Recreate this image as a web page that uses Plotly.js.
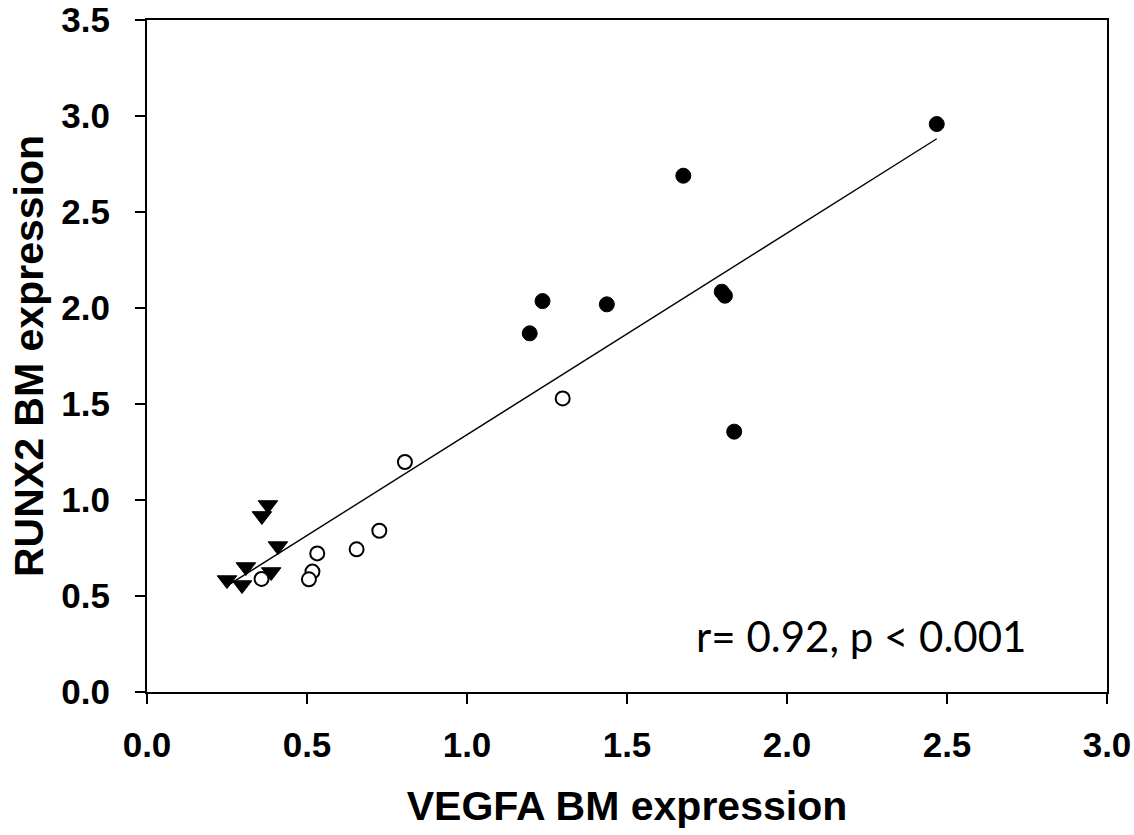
<!DOCTYPE html>
<html>
<head>
<meta charset="utf-8">
<script src="https://cdn.plot.ly/plotly-3.0.1.min.js"></script>
<style>html,body{margin:0;padding:0;background:#fff;}#chart{width:1134px;height:835px;}</style>
</head>
<body>
<div id="chart"></div>
<script>
// Group 1: filled down-triangles
const triX = [0.378, 0.359, 0.409, 0.309, 0.388, 0.250, 0.297];
const triY = [0.974, 0.917, 0.760, 0.651, 0.625, 0.583, 0.557];
// Group 2: open circles
const openX = [0.358, 0.532, 0.517, 0.506, 0.655, 0.726, 0.806, 1.299];
const openY = [0.589, 0.722, 0.627, 0.587, 0.743, 0.840, 1.198, 1.529];
// Group 3: filled circles
const fillX = [1.676, 1.236, 1.196, 1.437, 1.796, 1.806, 1.835, 2.468];
const fillY = [2.689, 2.036, 1.868, 2.019, 2.085, 2.064, 1.356, 2.958];

const xTicks = [0, 0.5, 1.0, 1.5, 2.0, 2.5, 3.0];
const yTicks = [0, 0.5, 1.0, 1.5, 2.0, 2.5, 3.0, 3.5];
const statText = 'r= 0.92, p < 0.001';

// Linear regression over all points
const allX = triX.concat(openX, fillX);
const allY = triY.concat(openY, fillY);
const n = allX.length;
const mx = allX.reduce((a, b) => a + b, 0) / n;
const my = allY.reduce((a, b) => a + b, 0) / n;
let sxy = 0, sxx = 0;
for (let i = 0; i < n; i++) { sxy += (allX[i] - mx) * (allY[i] - my); sxx += (allX[i] - mx) ** 2; }
const slope = sxy / sxx;
const intercept = my - slope * mx;
const xMin = Math.min(...allX), xMax = Math.max(...allX);
const fitX = [xMin, xMax];
const fitY = fitX.map(v => intercept + slope * v);

const traces = [
  { x: fitX, y: fitY, mode: 'lines', line: { color: '#000', width: 1.4 }, hoverinfo: 'skip', showlegend: false },
  { x: triX, y: triY, mode: 'markers', marker: { symbol: 'triangle-down', size: 17, color: '#000', line: { color: '#000', width: 1 } }, showlegend: false },
  { x: openX, y: openY, mode: 'markers', marker: { symbol: 'circle', size: 14, color: '#fff', line: { color: '#000', width: 2 } }, showlegend: false },
  { x: fillX, y: fillY, mode: 'markers', marker: { symbol: 'circle', size: 15, color: '#000', line: { color: '#000', width: 1 } }, showlegend: false }
];

const tickFont = { family: 'Liberation Sans, Arial, sans-serif', size: 35, color: '#000', weight: 'bold' };
const titleFont = { family: 'Liberation Sans, Arial, sans-serif', size: 41, color: '#000', weight: 'bold' };

const layout = {
  width: 1134, height: 835,
  margin: { l: 147, r: 27, t: 20, b: 143 },
  paper_bgcolor: '#fff', plot_bgcolor: '#fff',
  showlegend: false,
  xaxis: {
    range: [0, 3.0], tickvals: xTicks, ticktext: xTicks.map(v => v.toFixed(1)),
    showgrid: false, zeroline: false, showline: true, mirror: true, linecolor: '#000', linewidth: 2,
    ticks: 'outside', ticklen: 10, tickwidth: 2, tickcolor: '#000', tickfont: tickFont, ticklabelstandoff: 11,
    title: { text: 'VEGFA BM expression', font: titleFont, standoff: 28 }
  },
  yaxis: {
    range: [0, 3.5], tickvals: yTicks, ticktext: yTicks.map(v => v.toFixed(1)),
    showgrid: false, zeroline: false, showline: true, mirror: true, linecolor: '#000', linewidth: 2,
    ticks: 'outside', ticklen: 10, tickwidth: 2, tickcolor: '#000', tickfont: tickFont, ticklabelstandoff: 18,
    title: { text: 'RUNX2 BM expression', font: titleFont, standoff: 5 }
  },
  annotations: [{
    text: statText, xref: 'paper', yref: 'paper', x: 0.570, y: 0.0833,
    xanchor: 'left', yanchor: 'middle', showarrow: false,
    font: { family: 'Lato, Open Sans, sans-serif', size: 42, color: '#000' }
  }]
};

Plotly.newPlot('chart', traces, layout, { displayModeBar: false, staticPlot: true });
</script>
</body>
</html>
